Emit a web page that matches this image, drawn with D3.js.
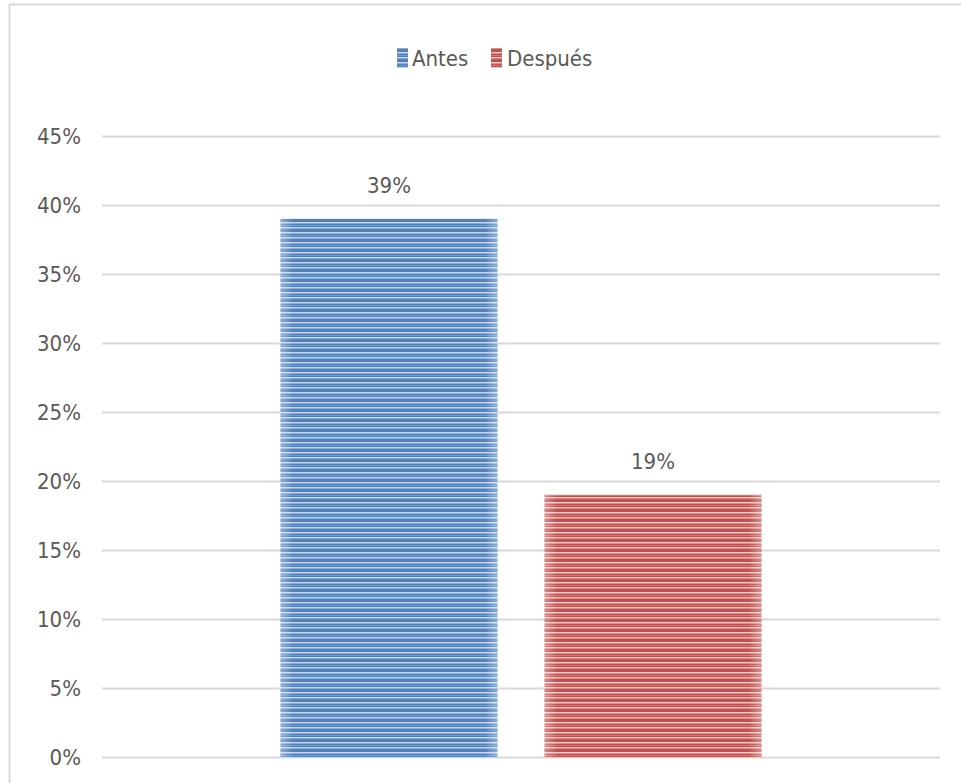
<!DOCTYPE html>
<html><head><meta charset="utf-8">
<script src="https://cdn.jsdelivr.net/npm/d3@7"></script>
<style>
html,body{margin:0;padding:0;background:#fff;}
svg{display:block;}
text{font-family:"Liberation Sans Narrow","DejaVu Sans Condensed","Liberation Sans",sans-serif;fill:#595959;}
</style></head>
<body>
<script>
const categories = [""];
const seriesNames = ["Antes", "Después"];
const seriesValues = [0.39, 0.19];
const yTicks = [0, 0.05, 0.10, 0.15, 0.20, 0.25, 0.30, 0.35, 0.40, 0.45];
const seriesColors = [["#4f81bd", "#c6d6ec", "#6f98cc"], ["#c0504d", "#f0c8c7", "#d27672"]];

const W = 961, H = 783;
const svg = d3.select("body").append("svg").attr("width", W).attr("height", H);

// patterns
const defs = svg.append("defs");
seriesColors.forEach((c, i) => {
  const p = defs.append("pattern").attr("id", "pat" + i).attr("patternUnits", "userSpaceOnUse")
    .attr("width", 10).attr("height", 10);
  p.append("rect").attr("width", 10).attr("height", 10).attr("fill", c[0]);
  p.append("rect").attr("y", 2).attr("width", 10).attr("height", 1.5).attr("fill", c[1]);
  p.append("rect").attr("y", 5).attr("width", 10).attr("height", 1).attr("fill", c[2]);
  p.append("rect").attr("y", 7).attr("width", 10).attr("height", 1.5).attr("fill", c[1]);
  const g = defs.append("linearGradient").attr("id", "edge" + i);
  g.append("stop").attr("offset", "0").attr("stop-color", "#fff").attr("stop-opacity", 0.35);
  g.append("stop").attr("offset", "0.06").attr("stop-color", "#fff").attr("stop-opacity", 0);
  g.append("stop").attr("offset", "0.94").attr("stop-color", "#fff").attr("stop-opacity", 0);
  g.append("stop").attr("offset", "1").attr("stop-color", "#fff").attr("stop-opacity", 0.35);
});

// border
svg.append("line").attr("x1", 9).attr("x2", 961).attr("y1", 4.5).attr("y2", 4.5).attr("stroke", "#d9d9d9").attr("stroke-width", 2);
svg.append("line").attr("x1", 9.5).attr("x2", 9.5).attr("y1", 4).attr("y2", 783).attr("stroke", "#d9d9d9").attr("stroke-width", 2);

const x0 = 102, x1 = 940, yTop = 136, yBot = 757;
const y = d3.scaleLinear().domain([0, 0.45]).range([yBot, yTop]);
const xCat = d3.scaleBand().domain(categories).range([x0, x1]).paddingInner(0).paddingOuter(0.371);
const xSer = d3.scaleBand().domain(seriesNames).range([0, xCat.bandwidth()]).paddingInner(0.178);

// grid
svg.append("g").selectAll("line").data(yTicks).join("line")
  .attr("x1", x0).attr("x2", x1).attr("y1", d => Math.round(y(d)) + 0.5).attr("y2", d => Math.round(y(d)) + 0.5)
  .attr("stroke", "#d9d9d9").attr("stroke-width", 2);

// y axis
const yAxis = d3.axisLeft(y).tickValues(yTicks).tickFormat(d3.format(".0%")).tickSize(0).tickPadding(0);
const ag = svg.append("g").attr("transform", "translate(81,0)").call(yAxis);
ag.select(".domain").remove();
ag.selectAll("text").attr("fill", "#595959").style("font-size", "22px").attr("dy", "0.35em");

// bars
const bg = svg.append("g");
seriesNames.forEach((s, i) => {
  const bx = xCat(categories[0]) + xSer(s), bw = xSer.bandwidth();
  bg.append("rect").attr("x", bx).attr("y", y(seriesValues[i])).attr("width", bw).attr("height", y(0) - y(seriesValues[i]))
    .attr("fill", "url(#pat" + i + ")");
  bg.append("rect").attr("x", bx).attr("y", y(seriesValues[i])).attr("width", bw).attr("height", y(0) - y(seriesValues[i]))
    .attr("fill", "url(#edge" + i + ")");
  bg.append("text").attr("x", bx + bw / 2).attr("y", y(seriesValues[i]) - 26).attr("text-anchor", "middle")
    .style("font-size", "22px").text(d3.format(".0%")(seriesValues[i]));
});

// legend
const legend = [{x: 397, tx: 412}, {x: 491, tx: 507}];
seriesNames.forEach((s, i) => {
  svg.append("rect").attr("x", legend[i].x).attr("y", 48).attr("width", 11).attr("height", 20).attr("fill", "url(#pat" + i + ")");
  svg.append("text").attr("x", legend[i].tx).attr("y", 58).attr("dy", "0.35em").style("font-size", "22px").text(s);
});
</script>
</body></html>
